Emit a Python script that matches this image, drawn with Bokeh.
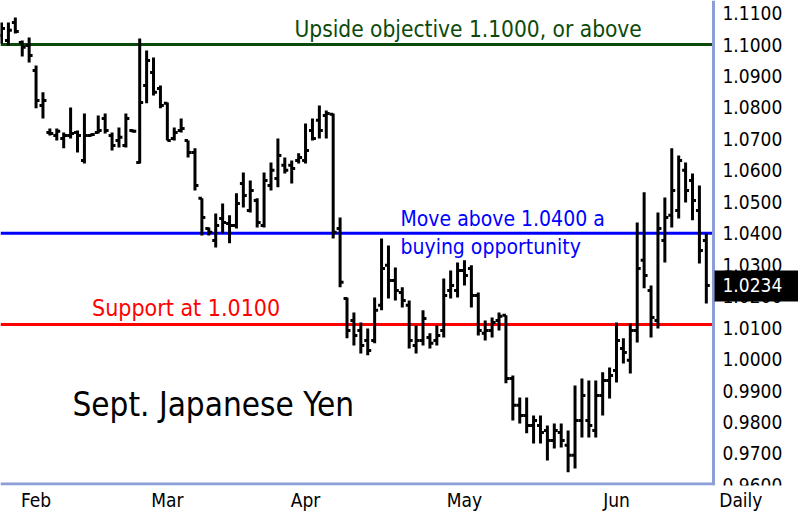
from bokeh.plotting import figure
from bokeh.models import Range1d, FixedTicker
from bokeh.core.properties import value
from bokeh.embed import file_html
from bokeh.resources import INLINE

# ---- data (daily OHLC, Sept. Japanese Yen futures) ----
high = [1.1070, 1.1070, 1.1086, 1.1013, 1.1022, 1.0933, 1.0848, 1.0733, 1.0733, 1.0720,
        1.0800, 1.0727, 1.0781, 1.0717, 1.0774, 1.0781, 1.0720, 1.0736, 1.0781, 1.0730,
        1.1019, 1.0981, 1.0959, 1.0870, 1.0816, 1.0736, 1.0765, 1.0695, 1.0670, 1.0511,
        1.0418, 1.0463, 1.0495, 1.0457, 1.0527, 1.0593, 1.0568, 1.0511, 1.0593, 1.0625,
        1.0701, 1.0641, 1.0631, 1.0654, 1.0749, 1.0765, 1.0806, 1.0790, 1.0781, 1.0450,
        1.0196, 1.0148, 1.0116, 1.0097, 1.0196, 1.0383, 1.0361, 1.0291, 1.0228, 1.0186,
        1.0107, 1.0155, 1.0082, 1.0107, 1.0256, 1.0282, 1.0307, 1.0314, 1.0298, 1.0212,
        1.0123, 1.0132, 1.0148, 1.0139, 0.9948, 0.9878, 0.9878, 0.9821, 0.9821, 0.9789,
        0.9795, 0.9795, 0.9773, 0.9916, 0.9938, 0.9932, 0.9932, 0.9958, 0.9973, 1.0116,
        1.0066, 1.0113, 1.0434, 1.0530, 1.0234, 1.0466, 1.0514, 1.0670, 1.0647, 1.0625,
        1.0590, 1.0552, 1.0399]
low = [1.1003, 1.0997, 1.1035, 1.0962, 1.0943, 1.0797, 1.0765, 1.0711, 1.0695, 1.0670,
       1.0701, 1.0657, 1.0622, 1.0708, 1.0717, 1.0717, 1.0663, 1.0673, 1.0673, 1.0720,
       1.0622, 1.0813, 1.0838, 1.0797, 1.0695, 1.0695, 1.0720, 1.0641, 1.0536, 1.0393,
       1.0393, 1.0355, 1.0399, 1.0368, 1.0415, 1.0482, 1.0466, 1.0418, 1.0418, 1.0536,
       1.0546, 1.0590, 1.0558, 1.0622, 1.0622, 1.0695, 1.0701, 1.0701, 1.0383, 1.0228,
       1.0066, 1.0043, 1.0018, 1.0012, 1.0050, 1.0155, 1.0193, 1.0186, 1.0164, 1.0034,
       1.0018, 1.0043, 1.0034, 1.0043, 1.0069, 1.0193, 1.0196, 1.0234, 1.0164, 1.0075,
       1.0059, 1.0069, 1.0091, 0.9923, 0.9805, 0.9795, 0.9764, 0.9732, 0.9732, 0.9678,
       0.9716, 0.9719, 0.9640, 0.9652, 0.9751, 0.9751, 0.9751, 0.9821, 0.9875, 0.9926,
       0.9986, 0.9954, 1.0053, 1.0225, 1.0069, 1.0097, 1.0307, 1.0418, 1.0447, 1.0498,
       1.0441, 1.0304, 1.0177]
open_ = [1.1029, 1.1013, 1.1070, 1.1006, 1.0997, 1.0917, 1.0806, 1.0720, 1.0711, 1.0701,
         1.0711, 1.0720, 1.0631, 1.0711, 1.0720, 1.0765, 1.0711, 1.0695, 1.0679, 1.0727,
         1.0625, 1.0870, 1.0911, 1.0860, 1.0813, 1.0701, 1.0727, 1.0695, 1.0657, 1.0511,
         1.0415, 1.0377, 1.0447, 1.0431, 1.0425, 1.0558, 1.0472, 1.0504, 1.0425, 1.0552,
         1.0574, 1.0616, 1.0616, 1.0631, 1.0631, 1.0727, 1.0759, 1.0774, 1.0778, 1.0415,
         1.0193, 1.0123, 1.0091, 1.0059, 1.0059, 1.0171, 1.0298, 1.0250, 1.0212, 1.0171,
         1.0043, 1.0059, 1.0069, 1.0059, 1.0091, 1.0218, 1.0218, 1.0282, 1.0288, 1.0202,
         1.0082, 1.0091, 1.0123, 1.0139, 0.9938, 0.9853, 0.9821, 0.9789, 0.9789, 0.9773,
         0.9741, 0.9767, 0.9726, 0.9694, 0.9805, 0.9805, 0.9773, 0.9884, 0.9932, 0.9964,
         1.0034, 0.9996, 1.0091, 1.0314, 1.0218, 1.0123, 1.0377, 1.0457, 1.0472, 1.0600,
         1.0568, 1.0472, 1.0377]
close = [1.1051, 1.1045, 1.1041, 1.0991, 1.0965, 1.0822, 1.0822, 1.0717, 1.0724, 1.0711,
         1.0717, 1.0711, 1.0711, 1.0714, 1.0727, 1.0727, 1.0679, 1.0705, 1.0765, 1.0724,
         1.0816, 1.0949, 1.0848, 1.0806, 1.0695, 1.0720, 1.0733, 1.0657, 1.0552, 1.0450,
         1.0403, 1.0425, 1.0434, 1.0425, 1.0495, 1.0520, 1.0536, 1.0434, 1.0568, 1.0600,
         1.0647, 1.0600, 1.0606, 1.0641, 1.0663, 1.0701, 1.0727, 1.0781, 1.0403, 1.0244,
         1.0091, 1.0075, 1.0043, 1.0027, 1.0155, 1.0288, 1.0250, 1.0218, 1.0186, 1.0059,
         1.0059, 1.0129, 1.0050, 1.0075, 1.0202, 1.0234, 1.0282, 1.0266, 1.0202, 1.0091,
         1.0091, 1.0116, 1.0136, 0.9938, 0.9853, 0.9821, 0.9789, 0.9805, 0.9767, 0.9741,
         0.9773, 0.9741, 0.9694, 0.9805, 0.9884, 0.9789, 0.9884, 0.9932, 0.9948, 1.0059,
         1.0021, 1.0091, 1.0288, 1.0266, 1.0132, 1.0415, 1.0450, 1.0536, 1.0631, 1.0536,
         1.0504, 1.0345, 1.0234]
day = list(range(len(high)))

month_labels = ["Feb", "Mar", "Apr", "May", "Jun", "Daily"]
month_ticks = [5, 24, 44, 67, 89, 107]
price_ticks = [round(0.96 + 0.01 * k, 2) for k in range(16)]
price_labels = [f"{v:.4f}" for v in price_ticks]

objective_level = 1.1000
buy_level = 1.0400
support_level = 1.0110
last_price = 1.0234

FONT = "'DejaVu Sans Condensed', 'Liberation Sans', sans-serif"
AXIS_BLUE = "#8c9ed8"
GREEN = "#0b4a0b"

# price panel geometry (in data units of the chart)
X_START, X_END = -0.145, 115.34          # whole canvas width
Y_START, Y_END = 0.95982, 1.11399
PLOT_RIGHT = 103.04                      # right edge of the bar area (price scale line)
PLOT_BOTTOM = 0.96030                    # bottom edge of the bar area (time scale line)
LABEL_X = 104.34                         # left edge of the price-scale labels

p = figure(frame_width=798, frame_height=485,
           x_range=Range1d(X_START, X_END), y_range=Range1d(Y_START, Y_END),
           y_axis_location=None, toolbar_location=None, output_backend="svg",
           min_border_left=0, min_border_top=0, min_border_right=0, min_border_bottom=34)
p.outline_line_color = None
p.xgrid.visible = False
p.ygrid.visible = False
p.background_fill_color = "white"
p.border_fill_color = "white"

ax = p.xaxis[0]
ax.axis_line_color = None
ax.major_tick_line_color = None
ax.minor_tick_line_color = None
ax.major_tick_out = 0
ax.major_tick_in = 0
ax.major_label_text_font = FONT
ax.major_label_text_font_size = "19px"
ax.major_label_text_color = "black"
ax.major_label_standoff = 3
ax.ticker = FixedTicker(ticks=month_ticks)
ax.major_label_overrides = {t: l for t, l in zip(month_ticks, month_labels)}

# reference levels (within the bar area)
p.segment(x0=X_START, x1=PLOT_RIGHT, y0=objective_level, y1=objective_level, line_color=GREEN, line_width=3)
p.segment(x0=X_START, x1=PLOT_RIGHT, y0=buy_level, y1=buy_level, line_color="#0000ff", line_width=3)
p.segment(x0=X_START, x1=PLOT_RIGHT, y0=support_level, y1=support_level, line_color="#ff0000", line_width=3)

# OHLC bars
tick = 0.5
p.segment(x0=day, y0=low, x1=day, y1=high, line_color="black", line_width=3)
p.segment(x0=[d - tick for d in day], y0=open_, x1=day, y1=open_, line_color="black", line_width=3)
p.segment(x0=day, y0=close, x1=[d + tick for d in day], y1=close, line_color="black", line_width=3)

# price scale
p.text(x=[LABEL_X] * len(price_ticks), y=price_ticks, text=price_labels,
       text_font=value(FONT), text_font_size="19px", text_color="black",
       text_baseline="middle", text_align="left")
p.segment(x0=PLOT_RIGHT, x1=PLOT_RIGHT, y0=Y_START, y1=Y_END, line_color=AXIS_BLUE, line_width=3)
p.segment(x0=X_START, x1=PLOT_RIGHT, y0=PLOT_BOTTOM, y1=PLOT_BOTTOM, line_color=AXIS_BLUE, line_width=3)

# last price marker
p.quad(left=PLOT_RIGHT + 0.15, right=X_END, bottom=last_price - 0.0051, top=last_price + 0.0048,
       fill_color="black", line_color=None)
p.text(x=[LABEL_X], y=[last_price], text=[f"{last_price:.4f}"], text_font=value(FONT),
       text_font_size="19px", text_color="white", text_baseline="middle", text_align="left")

# annotations
def note(x, y, text, color, size):
    p.text(x=[x], y=[y], text=[text], text_color=color, text_font=value(FONT),
           text_font_size=size, text_baseline="middle", text_align="left")

note(42.4, 1.10499, "Upside objective 1.1000, or above", GREEN, "22.5px")
note(57.74, 1.04456, "Move above 1.0400 a", "#0000ff", "21px")
note(57.74, 1.03579, "buying opportunity", "#0000ff", "21px")
note(13.1, 1.01640, "Support at 1.0100", "#ff0000", "23px")
note(10.27, 0.98551, "Sept. Japanese Yen", "black", "33px")

open("out.html", "w").write(file_html(p, INLINE))
